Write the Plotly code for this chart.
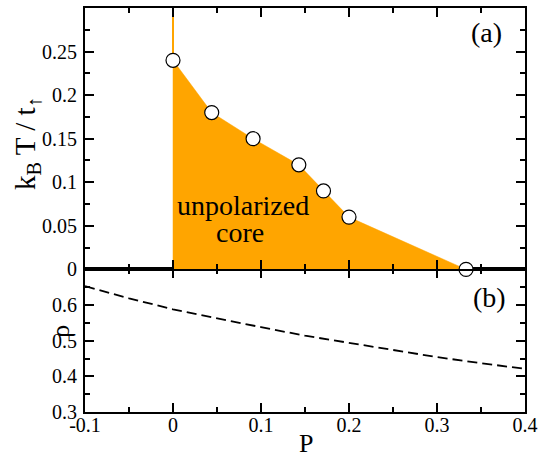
import plotly.graph_objects as go

# Phase boundary of the unpolarized core (panel a)
p_boundary = [0.0, 0.044, 0.091, 0.143, 0.171, 0.2, 0.333]
t_boundary = [0.24, 0.18, 0.15, 0.12, 0.09, 0.06, 0.0]

# Vertical boundary above the highest point at P = 0
p_vertical = [0.0, 0.0]
t_vertical = [0.24, 0.3]

# Density versus polarization (panel b)
p_rho = [-0.1, -0.05, 0.0, 0.05, 0.1, 0.15, 0.2, 0.25, 0.3, 0.35, 0.4]
rho = [0.653, 0.619, 0.588, 0.562, 0.538, 0.514, 0.494, 0.473, 0.454, 0.437, 0.421]

# Tick labels
x_ticks = [-0.1, 0.0, 0.1, 0.2, 0.3, 0.4]
x_ticktext = ["-0.1", "0", "0.1", "0.2", "0.3", "0.4"]
t_ticks = [0.0, 0.05, 0.1, 0.15, 0.2, 0.25, 0.3]
t_ticktext = ["0", "0.05", "0.1", "0.15", "0.2", "0.25", ""]
rho_ticks = [0.3, 0.4, 0.5, 0.6, 0.7]
rho_ticktext = ["0.3", "0.4", "0.5", "0.6", ""]

ORANGE = "#FFA500"
FONT = "Liberation Serif"

fig = go.Figure()

# filled region under the boundary
fig.add_trace(go.Scatter(
    x=[p_boundary[0]] + p_boundary + [p_boundary[-1]],
    y=[0.0] + t_boundary + [0.0],
    xaxis="x2", yaxis="y2", mode="lines", fill="toself",
    fillcolor=ORANGE, line=dict(color=ORANGE, width=0.5),
    hoverinfo="skip", showlegend=False,
))
fig.add_trace(go.Scatter(
    x=p_vertical, y=t_vertical, xaxis="x2", yaxis="y2", mode="lines",
    line=dict(color=ORANGE, width=2), showlegend=False,
))
fig.add_trace(go.Scatter(
    x=p_boundary, y=t_boundary, xaxis="x2", yaxis="y2", mode="markers",
    marker=dict(symbol="circle", size=14, color="white",
                line=dict(color="black", width=1.2)),
    cliponaxis=False, showlegend=False,
))

fig.add_trace(go.Scatter(
    x=p_rho, y=rho, xaxis="x", yaxis="y", mode="lines",
    line=dict(color="black", width=1.8, dash="10px,5px"),
    showlegend=False,
))

tick_font = dict(family=FONT, size=20, color="black")
common = dict(
    showline=True, linecolor="black", linewidth=2, mirror="ticks",
    ticks="inside", ticklen=9, tickwidth=1.5, tickcolor="black",
    showgrid=False, zeroline=False, tickfont=tick_font,
    tickmode="array",
)

fig.update_layout(
    width=544, height=454,
    margin=dict(l=85, r=16, t=6, b=42),
    paper_bgcolor="white", plot_bgcolor="white",
    xaxis=dict(domain=[0, 1], anchor="y", range=[-0.1, 0.4],
               tickvals=x_ticks, ticktext=x_ticktext, ticklabelstandoff=-6,
               minor=dict(ticks="inside", ticklen=5, tickwidth=1.5, tickcolor="black",
                          tickmode="linear", tick0=0, dtick=0.05),
               **common),
    xaxis2=dict(domain=[0, 1], anchor="y2", range=[-0.1, 0.4], matches="x",
                tickvals=x_ticks, ticktext=x_ticktext, showticklabels=False,
                minor=dict(ticks="inside", ticklen=5, tickwidth=1.5, tickcolor="black",
                           tickmode="linear", tick0=0, dtick=0.05),
                **common),
    yaxis=dict(domain=[0, 0.353], anchor="x", range=[0.3, 0.7],
               tickvals=rho_ticks, ticktext=rho_ticktext, ticklabelstandoff=2,
               minor=dict(ticks="inside", ticklen=5, tickwidth=1.5, tickcolor="black",
                          tickmode="linear", tick0=0.3, dtick=0.05),
               **common),
    yaxis2=dict(domain=[0.353, 1], anchor="x2", range=[0, 0.3],
                tickvals=t_ticks, ticktext=t_ticktext, ticklabelstandoff=2,
                minor=dict(ticks="inside", ticklen=5, tickwidth=1.5, tickcolor="black",
                           tickmode="linear", tick0=0, dtick=0.025),
                **common),
)

label_font = dict(family=FONT, size=28, color="black")
annotations = [
    dict(text="k<sub>B</sub> T / t<sub>↑</sub>", xref="paper", yref="paper",
         x=-0.176, y=0.665, textangle=-90, showarrow=False,
         font=dict(family=FONT, size=29, color="black")),
    dict(text="ρ", xref="paper", yref="paper", x=-0.093, y=0.179,
         textangle=-90, showarrow=False, font=dict(family=FONT, size=26, color="black")),
    dict(text="P", xref="paper", yref="paper", x=0.503, y=-0.118,
         showarrow=False, font=dict(family=FONT, size=26, color="black")),
    dict(text="unpolarized", xref="x2", yref="y2", x=0.0797, y=0.0733,
         showarrow=False, font=label_font),
    dict(text="core", xref="x2", yref="y2", x=0.0763, y=0.0423,
         showarrow=False, font=label_font),
    dict(text="(a)", xref="x2", yref="y2", x=0.356, y=0.272,
         showarrow=False, font=label_font),
    dict(text="(b)", xref="x", yref="y", x=0.36, y=0.621,
         showarrow=False, font=label_font),
]
fig.update_layout(annotations=annotations)

fig.write_html("out.html")
